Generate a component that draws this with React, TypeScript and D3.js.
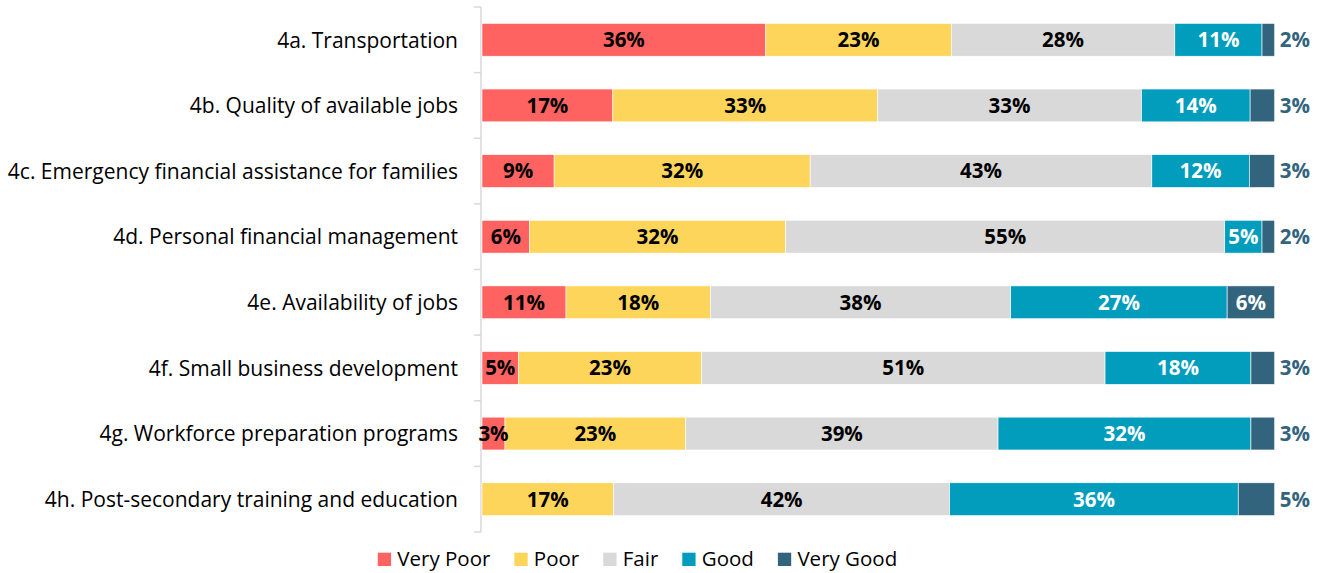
import React, { useEffect, useRef } from "react";
import * as d3 from "d3";

const categories = [
  "4a. Transportation",
  "4b. Quality of available jobs",
  "4c. Emergency financial assistance for families",
  "4d. Personal financial management",
  "4e. Availability of jobs",
  "4f. Small business development",
  "4g. Workforce preparation programs",
  "4h. Post-secondary training and education",
];

const seriesNames = ["Very Poor", "Poor", "Fair", "Good", "Very Good"];

const veryPoor = [35.8, 16.5, 9.1, 6.0, 10.6, 4.6, 2.9, 0];
const poor = [23.4, 33.4, 32.3, 32.3, 18.2, 23.1, 22.8, 16.6];
const fair = [28.2, 33.3, 43.1, 55.4, 37.9, 50.9, 39.4, 42.4];
const good = [11.0, 13.7, 12.3, 4.7, 27.3, 18.4, 31.9, 36.4];
const veryGood = [1.6, 3.1, 3.2, 1.6, 6.0, 3.0, 3.0, 4.6];

const colors = ["#FF6361", "#FCD55A", "#D9D9D9", "#029CBD", "#33647E"];
const labelColors = ["#000000", "#000000", "#000000", "#FFFFFF", "#FFFFFF"];
const outsideColor = "#33647E";

const W = 1328;
const H = 573;
const FONT = "'Open Sans', Lato, sans-serif";

export default function App() {
  const ref = useRef<SVGSVGElement | null>(null);

  useEffect(() => {
    const svg = d3.select(ref.current);
    svg.selectAll("*").remove();

    const seriesValues = [veryPoor, poor, fair, good, veryGood];
    const rows = categories.map((c, i) => {
      const o: any = { cat: c };
      seriesNames.forEach((s, k) => (o[s] = seriesValues[k][i]));
      return o;
    });
    const stacked = d3.stack().keys(seriesNames)(rows);

    const x = d3.scaleLinear().domain([0, 100]).range([482, 1274.7]);
    const y = d3
      .scaleBand()
      .domain(categories)
      .range([7, 532])
      .paddingInner(0.5)
      .paddingOuter(0.25);

    // axis line with ticks
    const axisG = svg.append("g");
    axisG
      .append("line")
      .attr("x1", 481)
      .attr("x2", 481)
      .attr("y1", 7)
      .attr("y2", 532)
      .attr("stroke", "#D9D9D9")
      .attr("stroke-width", 1.5);
    const bounds = categories.map((c) => (y(c) as number) - y.step() * y.paddingInner() / 2);
    bounds.push(532);
    axisG
      .selectAll("line.tick")
      .data(bounds)
      .join("line")
      .attr("class", "tick")
      .attr("x1", 474)
      .attr("x2", 481)
      .attr("y1", (d) => d)
      .attr("y2", (d) => d)
      .attr("stroke", "#D9D9D9")
      .attr("stroke-width", 1.5);

    // category labels
    svg
      .append("g")
      .selectAll("text")
      .data(categories)
      .join("text")
      .attr("x", 458)
      .attr("y", (d) => (y(d) as number) + y.bandwidth() / 2)
      .attr("dy", "0.37em")
      .attr("text-anchor", "end")
      .attr("font-family", FONT)
      .attr("font-size", 21)
      .attr("fill", "#000")
      .text((d) => d);

    // bars
    stacked.forEach((layer, k) => {
      const g = svg.append("g");
      g.selectAll("rect")
        .data(layer)
        .join("rect")
        .attr("x", (d) => x(d[0]))
        .attr("width", (d) => Math.max(0, x(d[1]) - x(d[0])))
        .attr("y", (d: any) => y(d.data.cat) as number)
        .attr("height", y.bandwidth())
        .attr("fill", colors[k])
        .attr("stroke", "#FFFFFF")
        .attr("stroke-width", 0.6);
    });

    // value labels
    stacked.forEach((layer, k) => {
      const g = svg.append("g");
      g.selectAll("text")
        .data(layer.filter((d) => d[1] - d[0] > 0))
        .join("text")
        .each(function (d: any) {
          const v = d[1] - d[0];
          const inside = k < 4 || v > 5;
          const t = d3.select(this);
          t.attr("y", (y(d.data.cat) as number) + y.bandwidth() / 2)
            .attr("dy", "0.36em")
            .attr("font-family", FONT)
            .attr("font-weight", "bold")
            .attr("font-size", 20.5)
            .text(`${Math.round(v)}%`);
          if (inside) {
            t.attr("x", (x(d[0]) + x(d[1])) / 2)
              .attr("text-anchor", "middle")
              .attr("fill", labelColors[k]);
          } else {
            t.attr("x", x(100) + 5)
              .attr("text-anchor", "start")
              .attr("fill", outsideColor);
          }
        });
    });

    // legend
    const lg = svg.append("g");
    let cx = 0;
    seriesNames.forEach((s, k) => {
      const g = lg.append("g");
      g.append("rect")
        .attr("x", 0)
        .attr("y", -13.3)
        .attr("width", 13.3)
        .attr("height", 13.3)
        .attr("fill", colors[k]);
      const t = g
        .append("text")
        .attr("x", 19.5)
        .attr("y", 0)
        .attr("font-family", FONT)
        .attr("font-size", 20.5)
        .attr("fill", "#000")
        .text(s);
      const tw = (t.node() as SVGTextElement).getComputedTextLength();
      g.attr("transform", `translate(${cx},566)`);
      cx += 19.5 + tw + 24;
    });
    const totalW = cx - 24;
    lg.attr("transform", `translate(${637.5 - totalW / 2},0)`);
  }, []);

  return (
    <svg
      ref={ref}
      width={W}
      height={H}
      style={{ position: "absolute", left: 0, top: 0, background: "#fff" }}
    />
  );
}
